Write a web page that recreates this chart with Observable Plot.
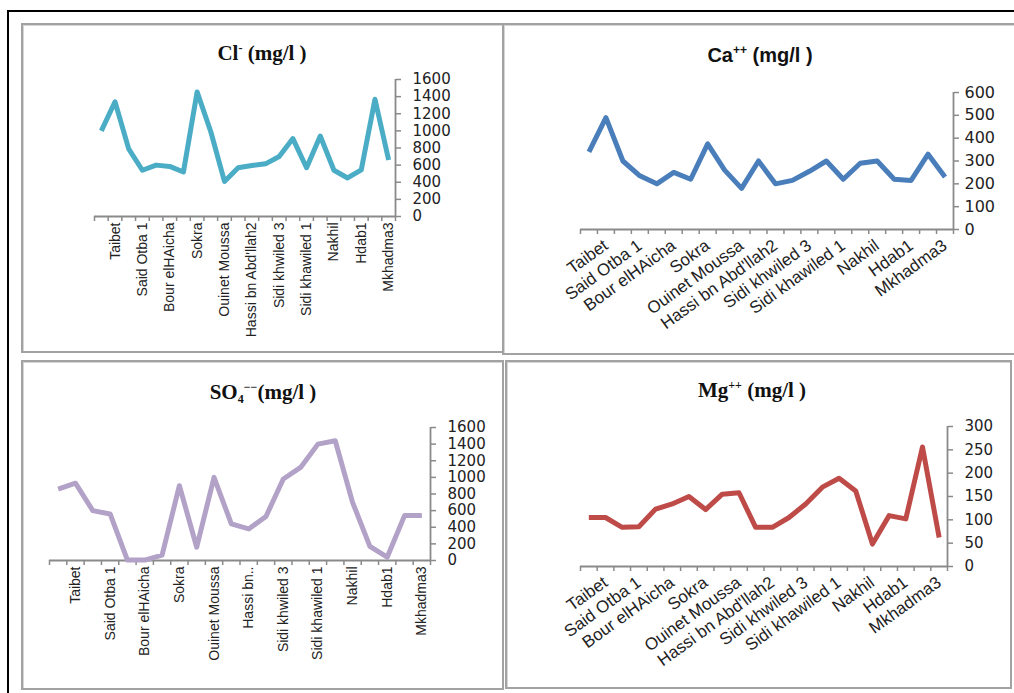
<!DOCTYPE html>
<html><head><meta charset="utf-8">
<script src="https://cdn.jsdelivr.net/npm/d3@7"></script>
<script src="https://cdn.jsdelivr.net/npm/@observablehq/plot@0.6"></script>
<style>
body{margin:0;background:#fff;width:1014px;height:693px;overflow:hidden;position:relative;font-family:"Liberation Sans",Arial,sans-serif}
#frame{position:absolute;left:7px;top:10px;width:1020px;height:700px;border-left:2px solid #000;border-top:2px solid #000}
.panel{position:absolute;border:2px solid #a2a2a2;box-shadow:inset 1px 1px 0 #d6d6d6;box-sizing:border-box}
.title{position:absolute;font-weight:bold;font-size:21px;white-space:nowrap;transform:translate(-50%,-50%);color:#111}
.serif{font-family:"Liberation Serif","Times New Roman",serif}
.sans{font-family:"Liberation Sans",Arial,sans-serif;font-size:20px}
.title sup{font-size:12px;vertical-align:8px;line-height:0}
.title sub{font-size:12px;vertical-align:-4px;line-height:0}
.chart{position:absolute}
.chart svg{background:transparent;overflow:visible}
</style></head>
<body>
<div id="frame"></div>
<div class="panel" style="left:21px;top:23px;width:483px;height:330px"></div>
<div class="panel" style="left:502px;top:23px;width:520px;height:332px"></div>
<div class="panel" style="left:21px;top:360px;width:483px;height:330px"></div>
<div class="panel" style="left:505px;top:360px;width:507px;height:329px"></div>

<div class="title serif" style="left:262px;top:53px">Cl<sup>-</sup> (mg/l )</div>
<div class="title sans" style="left:760px;top:55px">Ca<sup>++</sup> (mg/l )</div>
<div class="title serif" style="left:263px;top:392px">SO<sub>4</sub><sup>−−</sup>(mg/l )</div>
<div class="title serif" style="left:752px;top:390px">Mg<sup>++</sup> (mg/l )</div>

<div class="chart" id="c1" style="left:22px;top:24px"></div>
<div class="chart" id="c2" style="left:503px;top:24px"></div>
<div class="chart" id="c3" style="left:22px;top:362px"></div>
<div class="chart" id="c4" style="left:506px;top:362px"></div>

<script>
// Sampling sites (only every second name is legible in the reference)
const categories = ["", "Taibet", "", "Said Otba 1", "", "Bour elHAicha", "", "Sokra", "", "Ouinet Moussa", "",
  "Hassi bn Abd'llah2", "", "Sidi khwiled 3", "", "Sidi khawiled 1", "", "Nakhil", "", "Hdab1", "", "Mkhadma3"];
const so4Categories = ["", "Taibet", "", "Said Otba 1", "", "Bour elHAicha", "", "Sokra", "", "Ouinet Moussa", "",
  "Hassi bn..", "", "Sidi khwiled 3", "", "Sidi khawiled 1", "", "Nakhil", "", "Hdab1", "", "Mkhadma3"];

const clValues  = [1000, 1340, 790, 540, 600, 585, 520, 1455, 990, 410, 570, 595, 615, 700, 910, 570, 940, 540, 450, 545, 1370, 660];
const caValues  = [340, 490, 300, 235, 200, 250, 220, 375, 260, 180, 300, 200, 215, 255, 300, 220, 290, 300, 220, 215, 330, 230];
const so4Values = [860, 930, 600, 560, 5, 5, 65, 900, 160, 1000, 440, 380, 530, 980, 1120, 1400, 1440, 700, 170, 40, 540, 540];
const mgValues  = [105, 105, 84, 85, 123, 134, 150, 122, 155, 158, 84, 84, 105, 134, 170, 189, 162, 48, 109, 102, 256, 62];

const clTicks  = [0, 200, 400, 600, 800, 1000, 1200, 1400, 1600];
const caTicks  = [0, 100, 200, 300, 400, 500, 600];
const so4Ticks = [0, 200, 400, 600, 800, 1000, 1200, 1400, 1600];
const mgTicks  = [0, 50, 100, 150, 200, 250, 300];

const AXIS = "#8a8a8a";

function chart(o) {
  const n = o.values.length;
  const boundaries = d3.range(0, n + 1).map(i => i + 0.5);
  const labelled = d3.range(1, n + 1).filter(i => o.labels[i - 1] !== "");
  return Plot.plot({
    width: o.width, height: o.height,
    marginLeft: o.ml, marginRight: o.mr, marginTop: o.mt, marginBottom: o.mb,
    x: {domain: [0.5, n + 0.5], axis: null},
    y: {domain: [0, d3.max(o.ticks)], axis: null},
    style: {background: "transparent", overflow: "visible"},
    marks: [
      Plot.ruleY([0], {stroke: AXIS, strokeWidth: 1.8}),
      Plot.ruleX([n + 0.5], {stroke: AXIS, strokeWidth: 1.8}),
      Plot.axisX({ticks: boundaries, tickFormat: () => "", tickSize: 5, stroke: AXIS, strokeWidth: 1.5}),
      Plot.axisX({ticks: labelled, tickFormat: i => o.labels[i - 1], tickSize: 0,
        tickRotate: o.rotate, tickPadding: o.xpad, fontSize: o.xfont, fill: "#222",
        fontFamily: "Liberation Sans, Arial, sans-serif"}),
      Plot.axisY({anchor: "right", ticks: o.ticks, tickFormat: d => String(d), tickSize: 5, stroke: AXIS, strokeWidth: 1.5,
        tickPadding: o.ypad, fontSize: o.yfont, fill: "#222", textAnchor: "start",
        fontFamily: "DejaVu Sans, Verdana, sans-serif"}),
      Plot.lineY(o.values, {x: (d, i) => i + 1, y: d => d, stroke: o.color, strokeWidth: 5,
        strokeLinejoin: "round", strokeLinecap: "butt"})
    ]
  });
}

document.getElementById("c1").append(chart({
  values: clValues, labels: categories, ticks: clTicks, color: "#4BACC6",
  width: 480, height: 328, ml: 72, mr: 107, mt: 55, mb: 136,
  rotate: -90, xpad: 6, xfont: 14, ypad: 12, yfont: 15
}));
document.getElementById("c2").append(chart({
  values: caValues, labels: categories, ticks: caTicks, color: "#4A7EBB",
  width: 510, height: 330, ml: 77, mr: 60, mt: 68, mb: 125,
  rotate: -36, xpad: 14, xfont: 17, ypad: 6, yfont: 16
}));
document.getElementById("c3").append(chart({
  values: so4Values, labels: so4Categories, ticks: so4Ticks, color: "#B3A2C7",
  width: 480, height: 327, ml: 27, mr: 72, mt: 65, mb: 129,
  rotate: -90, xpad: 6, xfont: 14, ypad: 12, yfont: 15
}));
document.getElementById("c4").append(chart({
  values: mgValues, labels: categories, ticks: mgTicks, color: "#BE4B48",
  width: 505, height: 326, ml: 74, mr: 64, mt: 64, mb: 122,
  rotate: -36, xpad: 14, xfont: 17, ypad: 12, yfont: 15
}));
</script>
</body></html>
